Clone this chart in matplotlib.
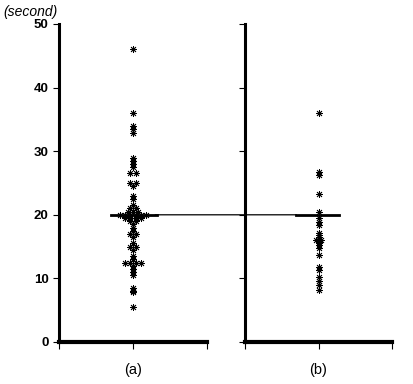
import numpy as np
import matplotlib
matplotlib.use("Agg")
import matplotlib.pyplot as plt
from matplotlib.patches import ConnectionPatch

# -------------------------------
# DATA
# -------------------------------
labels = ["(a)", "(b)"]

values_a = [46.0, 36.0, 34.0, 33.5, 32.8, 29.0, 28.5, 28.0, 27.5, 26.5, 26.5,
            25.0, 25.0, 24.5, 23.0, 22.5, 21.5, 21.0, 21.0, 20.5, 20.5, 20.5,
            20.0, 20.0, 20.0, 20.0, 20.0, 20.0, 19.5, 19.5, 19.5, 19.5, 19.0,
            19.0, 18.5, 18.0, 17.5, 17.0, 17.0, 16.5, 15.5, 15.0, 15.0, 14.5,
            13.5, 13.0, 12.5, 12.5, 12.5, 12.5, 12.0, 11.5, 11.0, 10.5, 8.5,
            8.0, 7.8, 5.5]

values_b = [36.0, 26.7, 26.2, 23.2, 20.4, 19.5, 18.9, 18.4, 17.2, 16.8, 16.5,
            16.2, 16.0, 16.0, 15.7, 15.5, 15.2, 14.8, 13.7, 11.8, 11.3, 10.2,
            9.6, 9.0, 8.2]

center_a = 20.0
center_b = 20.0

yticks = [0, 10, 20, 30, 40, 50]


def spread(vals, step=0.07):
    # put tied values side by side around the centre
    vals = np.asarray(vals)
    xs = np.zeros(len(vals))
    for v in np.unique(vals):
        idx = np.where(vals == v)[0]
        n = len(idx)
        xs[idx] = (np.arange(n) - (n - 1) / 2) * step
    return xs


# -------------------------------
# PLOT
# -------------------------------
plt.rcParams['font.family'] = ['Liberation Sans', 'DejaVu Sans']

fig = plt.figure(figsize=(4.13, 3.84), dpi=100)
W, H = 413, 384
ax_a = fig.add_axes([59 / W, 42 / H, 148 / W, 318 / H])
ax_b = fig.add_axes([245 / W, 42 / H, 147 / W, 318 / H])

star = (8, 2, 0)
for ax, vals, lab in [(ax_a, values_a, labels[0]), (ax_b, values_b, labels[1])]:
    ax.plot(spread(vals), vals, linestyle='none', marker=star,
            markersize=5, markeredgewidth=0.6, color='black')
    ax.set_xlim(-1, 1)
    ax.set_ylim(0, 50)
    ax.set_xticks([-1, 0, 1])
    ax.set_xticklabels(["", lab, ""])
    ax.set_yticks(yticks)
    ax.spines['top'].set_visible(False)
    ax.spines['right'].set_visible(False)
    ax.spines['left'].set_linewidth(2.2)
    ax.spines['bottom'].set_linewidth(3)
    ax.tick_params(axis='y', direction='out', length=4, width=0.8)
    ax.tick_params(axis='x', direction='out', length=5, width=0.8, pad=10,
                   labelsize=10.5)
    for sp in ax.spines.values():
        sp.set_clip_on(False)

for t in ax_a.get_yticklabels():
    t.set_fontweight('bold')
    t.set_fontsize(9.5)
ax_b.set_yticklabels([])

# thin line joining the two centre lines
con = ConnectionPatch(xyA=(0.3, center_a), coordsA=ax_a.transData,
                      xyB=(-0.3, center_b), coordsB=ax_b.transData,
                      color='black', linewidth=0.9)
fig.add_artist(con)

# thick centre marks
ax_a.plot([-0.3, 0.32], [center_a, center_a], color='black', linewidth=2)
ax_b.plot([-0.3, 0.28], [center_b, center_b], color='black', linewidth=2)

fig.text(3 / W, 1 - 12 / H, "(second)", style='italic', fontsize=10,
         va='center', ha='left')

plt.savefig("out.png", dpi=100)
